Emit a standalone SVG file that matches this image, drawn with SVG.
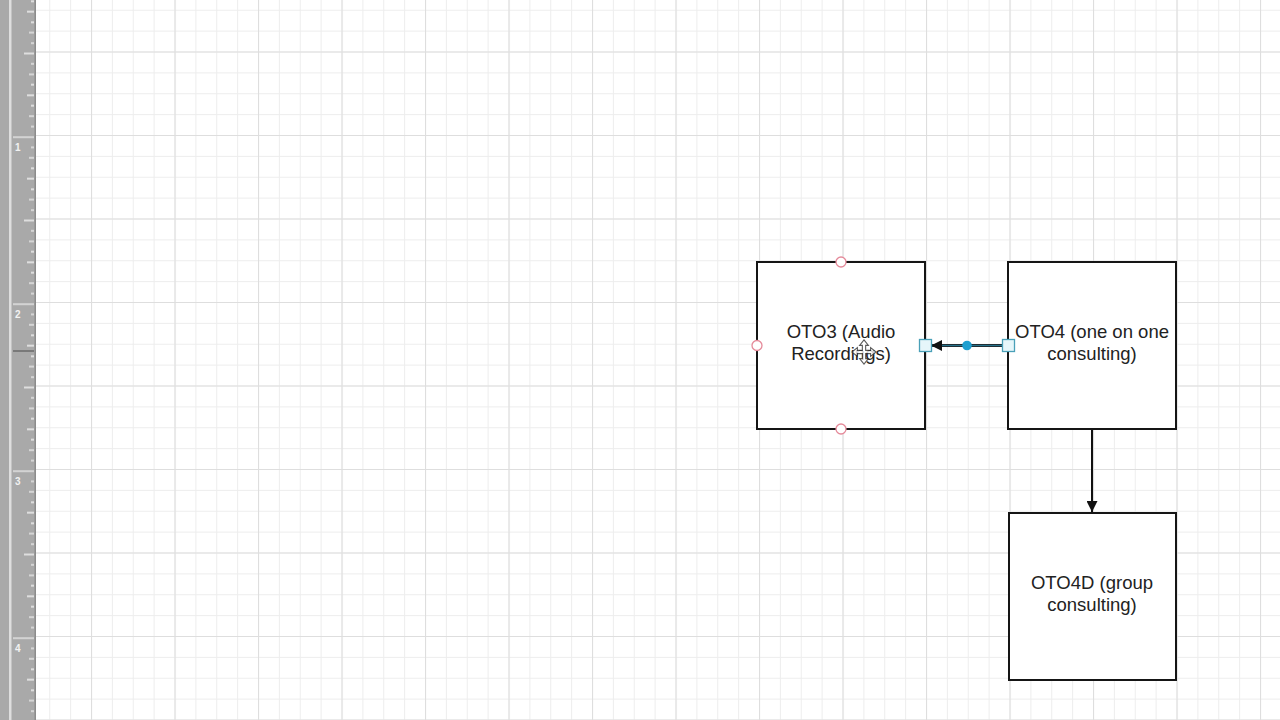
<svg xmlns="http://www.w3.org/2000/svg" width="1280" height="720" viewBox="0 0 1280 720">
  <style>
    .box { fill: #ffffff; stroke: #151515; stroke-width: 2; }
    .lbl { font-family: "Liberation Sans", Arial, sans-serif; font-size: 18.5px; fill: #222222; text-anchor: middle; }
    .conn { stroke: #111111; stroke-width: 2; fill: none; }
    .pt { fill: #ffffff; stroke: #e58a9a; stroke-width: 1.3; }
    .handle { fill: #e6f6fa; stroke: #4aa0b8; stroke-width: 1.3; }
    .rl { font-family: "Liberation Sans", Arial, sans-serif; font-size: 10px; font-weight: bold; fill: #f2f2f2; }
  </style>
  <defs>
    <pattern id="minor" patternUnits="userSpaceOnUse" x="7.5" y="9.75" width="20.875" height="20.875">
      <path d="M0 0.5 H20.875 M0.5 0 V20.875" stroke="#ededed" stroke-width="1" fill="none"/>
    </pattern>
    <pattern id="major" patternUnits="userSpaceOnUse" x="91" y="135" width="83.5" height="83.5">
      <path d="M0 0.5 H83.5 M0.5 0 V83.5" stroke="#dedede" stroke-width="1.2" fill="none"/>
    </pattern>
    <pattern id="ticks" patternUnits="userSpaceOnUse" x="0" y="136.5" width="36" height="167">
      <path d="M13 0.5 H34" stroke="#ececec" stroke-width="1.5"/>
      <path d="M31 10.9 H34 M29 21.4 H34 M31 31.8 H34 M27 42.3 H34 M31 52.7 H34 M29 63.1 H34 M31 73.6 H34 M24 84 H34 M31 94.4 H34 M29 104.9 H34 M31 115.3 H34 M27 125.8 H34 M31 136.2 H34 M29 146.6 H34 M31 157.1 H34" stroke="#f0f0f0" stroke-width="1.4"/>
    </pattern>
    <marker id="arr" viewBox="0 0 10 10" refX="10" refY="5" markerWidth="11" markerHeight="11" markerUnits="userSpaceOnUse" orient="auto">
      <path d="M0 0 L10 5 L0 10 Z" fill="#111111"/>
    </marker>
  </defs>

  <!-- canvas -->
  <rect x="0" y="0" width="1280" height="720" fill="#ffffff"/>
  <rect x="36" y="0" width="1244" height="720" fill="url(#minor)"/>
  <rect x="36" y="0" width="1244" height="720" fill="url(#major)"/>

  <!-- ruler -->
  <g id="ruler">
    <rect x="0" y="0" width="36" height="720" fill="#a9a9a9"/>
    <rect x="9" y="0" width="2.5" height="720" fill="#dedede"/>
    <rect x="34.5" y="0" width="1.5" height="720" fill="#8c8c8c"/>
    <rect x="12" y="0" width="23" height="720" fill="url(#ticks)"/>
    <path d="M13 351 H34" stroke="#6a6a6a" stroke-width="1.5"/>
    <text class="rl" x="15" y="151">1</text>
    <text class="rl" x="15" y="318">2</text>
    <text class="rl" x="15" y="485">3</text>
    <text class="rl" x="15" y="652">4</text>
  </g>

  <!-- connectors -->
  <g id="connectors">
    <line x1="1008" y1="345.5" x2="931" y2="345.5" stroke="#1f2f36" stroke-width="3" fill="none" marker-end="url(#arr)"/>
    <line x1="942" y1="345.5" x2="1002" y2="345.5" stroke="#2aa6cc" stroke-width="1.2" opacity="0.55"/>
    <line class="conn" x1="1092" y1="429" x2="1092" y2="512" marker-end="url(#arr)"/>
  </g>

  <g id="oto3">
    <rect class="box" x="757" y="262" width="168" height="167"/>
    <text class="lbl" x="841" y="338">OTO3 (Audio</text>
    <text class="lbl" x="841" y="360">Recordings)</text>
    <circle class="pt" cx="841" cy="262" r="5"/>
    <circle class="pt" cx="757" cy="345.5" r="5"/>
    <circle class="pt" cx="841" cy="429" r="5"/>
  </g>

  <g id="oto4">
    <rect class="box" x="1008" y="262" width="168" height="167"/>
    <text class="lbl" x="1092" y="338">OTO4 (one on one</text>
    <text class="lbl" x="1092" y="360">consulting)</text>
  </g>

  <g id="oto4d">
    <rect class="box" x="1009" y="513" width="167" height="167"/>
    <text class="lbl" x="1092" y="589">OTO4D (group</text>
    <text class="lbl" x="1092" y="611">consulting)</text>
  </g>

  <!-- selection handles of the selected connector -->
  <g id="selection">
    <rect class="handle" x="919.5" y="339.5" width="12" height="12"/>
    <rect class="handle" x="1002.5" y="339.5" width="12" height="12"/>
    <circle cx="967" cy="345.5" r="4.8" fill="#1e9fd0"/>
  </g>

  <!-- move cursor -->
  <g id="cursor" transform="translate(864 352) scale(1.1)" opacity="0.8">
    <path d="M0 -11 L4 -6 L1.5 -6 L1.5 -1.5 L6 -1.5 L6 -4 L11 0 L6 4 L6 1.5 L1.5 1.5 L1.5 6 L4 6 L0 11 L-4 6 L-1.5 6 L-1.5 1.5 L-6 1.5 L-6 4 L-11 0 L-6 -4 L-6 -1.5 L-1.5 -1.5 L-1.5 -6 L-4 -6 Z" fill="#ffffff" stroke="#333333" stroke-width="1"/>
  </g>
</svg>
